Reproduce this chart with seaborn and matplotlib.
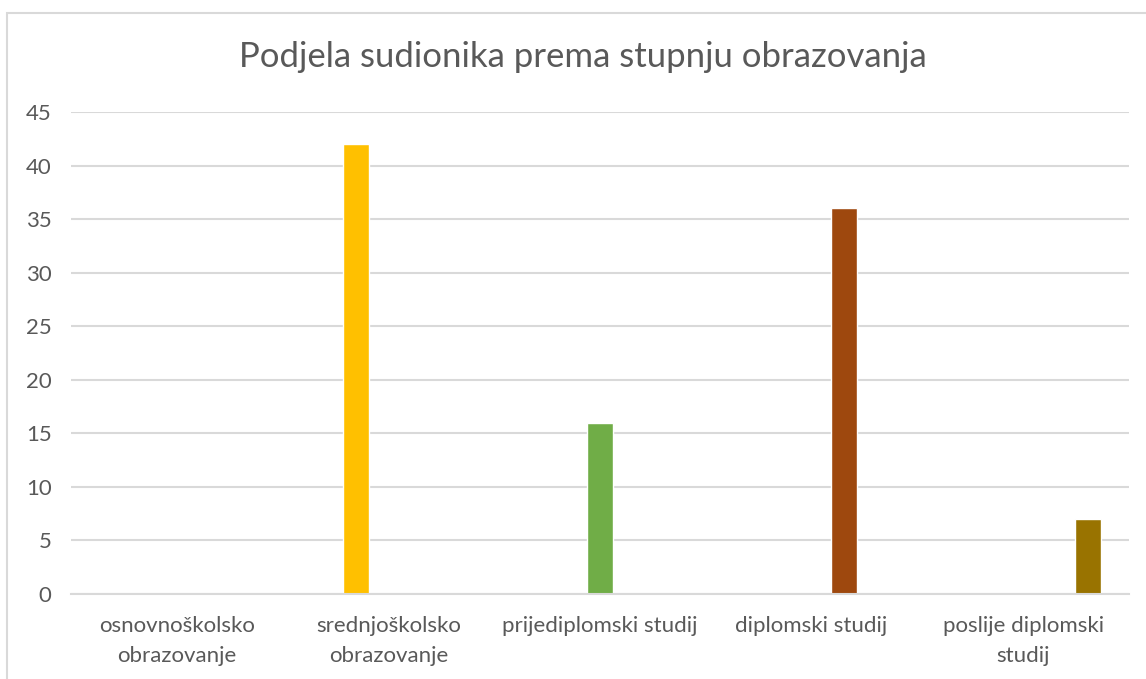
import seaborn as sns
import matplotlib.pyplot as plt
import pandas as pd
from matplotlib.patches import Rectangle

categories = ["osnovnoškolsko\nobrazovanje", "srednjoškolsko\nobrazovanje",
              "prijediplomski studij", "diplomski studij", "poslije diplomski\nstudij"]
counts = [0, 42, 16, 36, 7]
colors = ["#A5A5A5", "#FFC000", "#70AD47", "#9E480E", "#997300"]
yticks = [0, 5, 10, 15, 20, 25, 30, 35, 40, 45]

df = pd.DataFrame({"razina": categories, "broj": counts})

sns.set_style("white")
plt.rcParams["font.family"] = ["Lato", "DejaVu Sans"]
text_col = "#595959"
grid_col = "#D9D9D9"

fig = plt.figure(figsize=(11.46, 6.79), dpi=100)
ax = fig.add_axes([71 / 1146, 1 - 594 / 679, (1129 - 71) / 1146, (594 - 112) / 679])

sns.barplot(data=df, x="razina", y="broj", hue="razina", order=categories,
            hue_order=categories, palette=colors, saturation=1, dodge=True,
            width=0.77, gap=0.2, legend=False, ax=ax)

ax.set_ylim(0, 45)
ax.set_xlim(-0.5, 4.5)
ax.set_yticks(yticks)
ax.yaxis.grid(True, color=grid_col, linewidth=1.5)
ax.set_axisbelow(True)
for s in ["top", "right", "left"]:
    ax.spines[s].set_visible(False)
ax.spines["bottom"].set_color(grid_col)
ax.spines["bottom"].set_linewidth(1.5)
ax.tick_params(length=0, labelsize=16, labelcolor=text_col)
ax.tick_params(axis="y", pad=14)
ax.tick_params(axis="x", pad=16)
for lbl in ax.get_xticklabels():
    lbl.set_linespacing(1.6)
ax.set_xlabel("")
ax.set_ylabel("")

fig.text(583 / 1146, 1 - 57 / 679, "Podjela sudionika prema stupnju obrazovanja",
         ha="center", va="center", fontsize=25, color=text_col)

# chart frame
fig.patches.append(Rectangle((7 / 1146, -0.1), 1.2, 1.1 - 13 / 679,
                             transform=fig.transFigure, fill=False,
                             edgecolor=grid_col, linewidth=1.5))

fig.savefig("out.png", dpi=100)
